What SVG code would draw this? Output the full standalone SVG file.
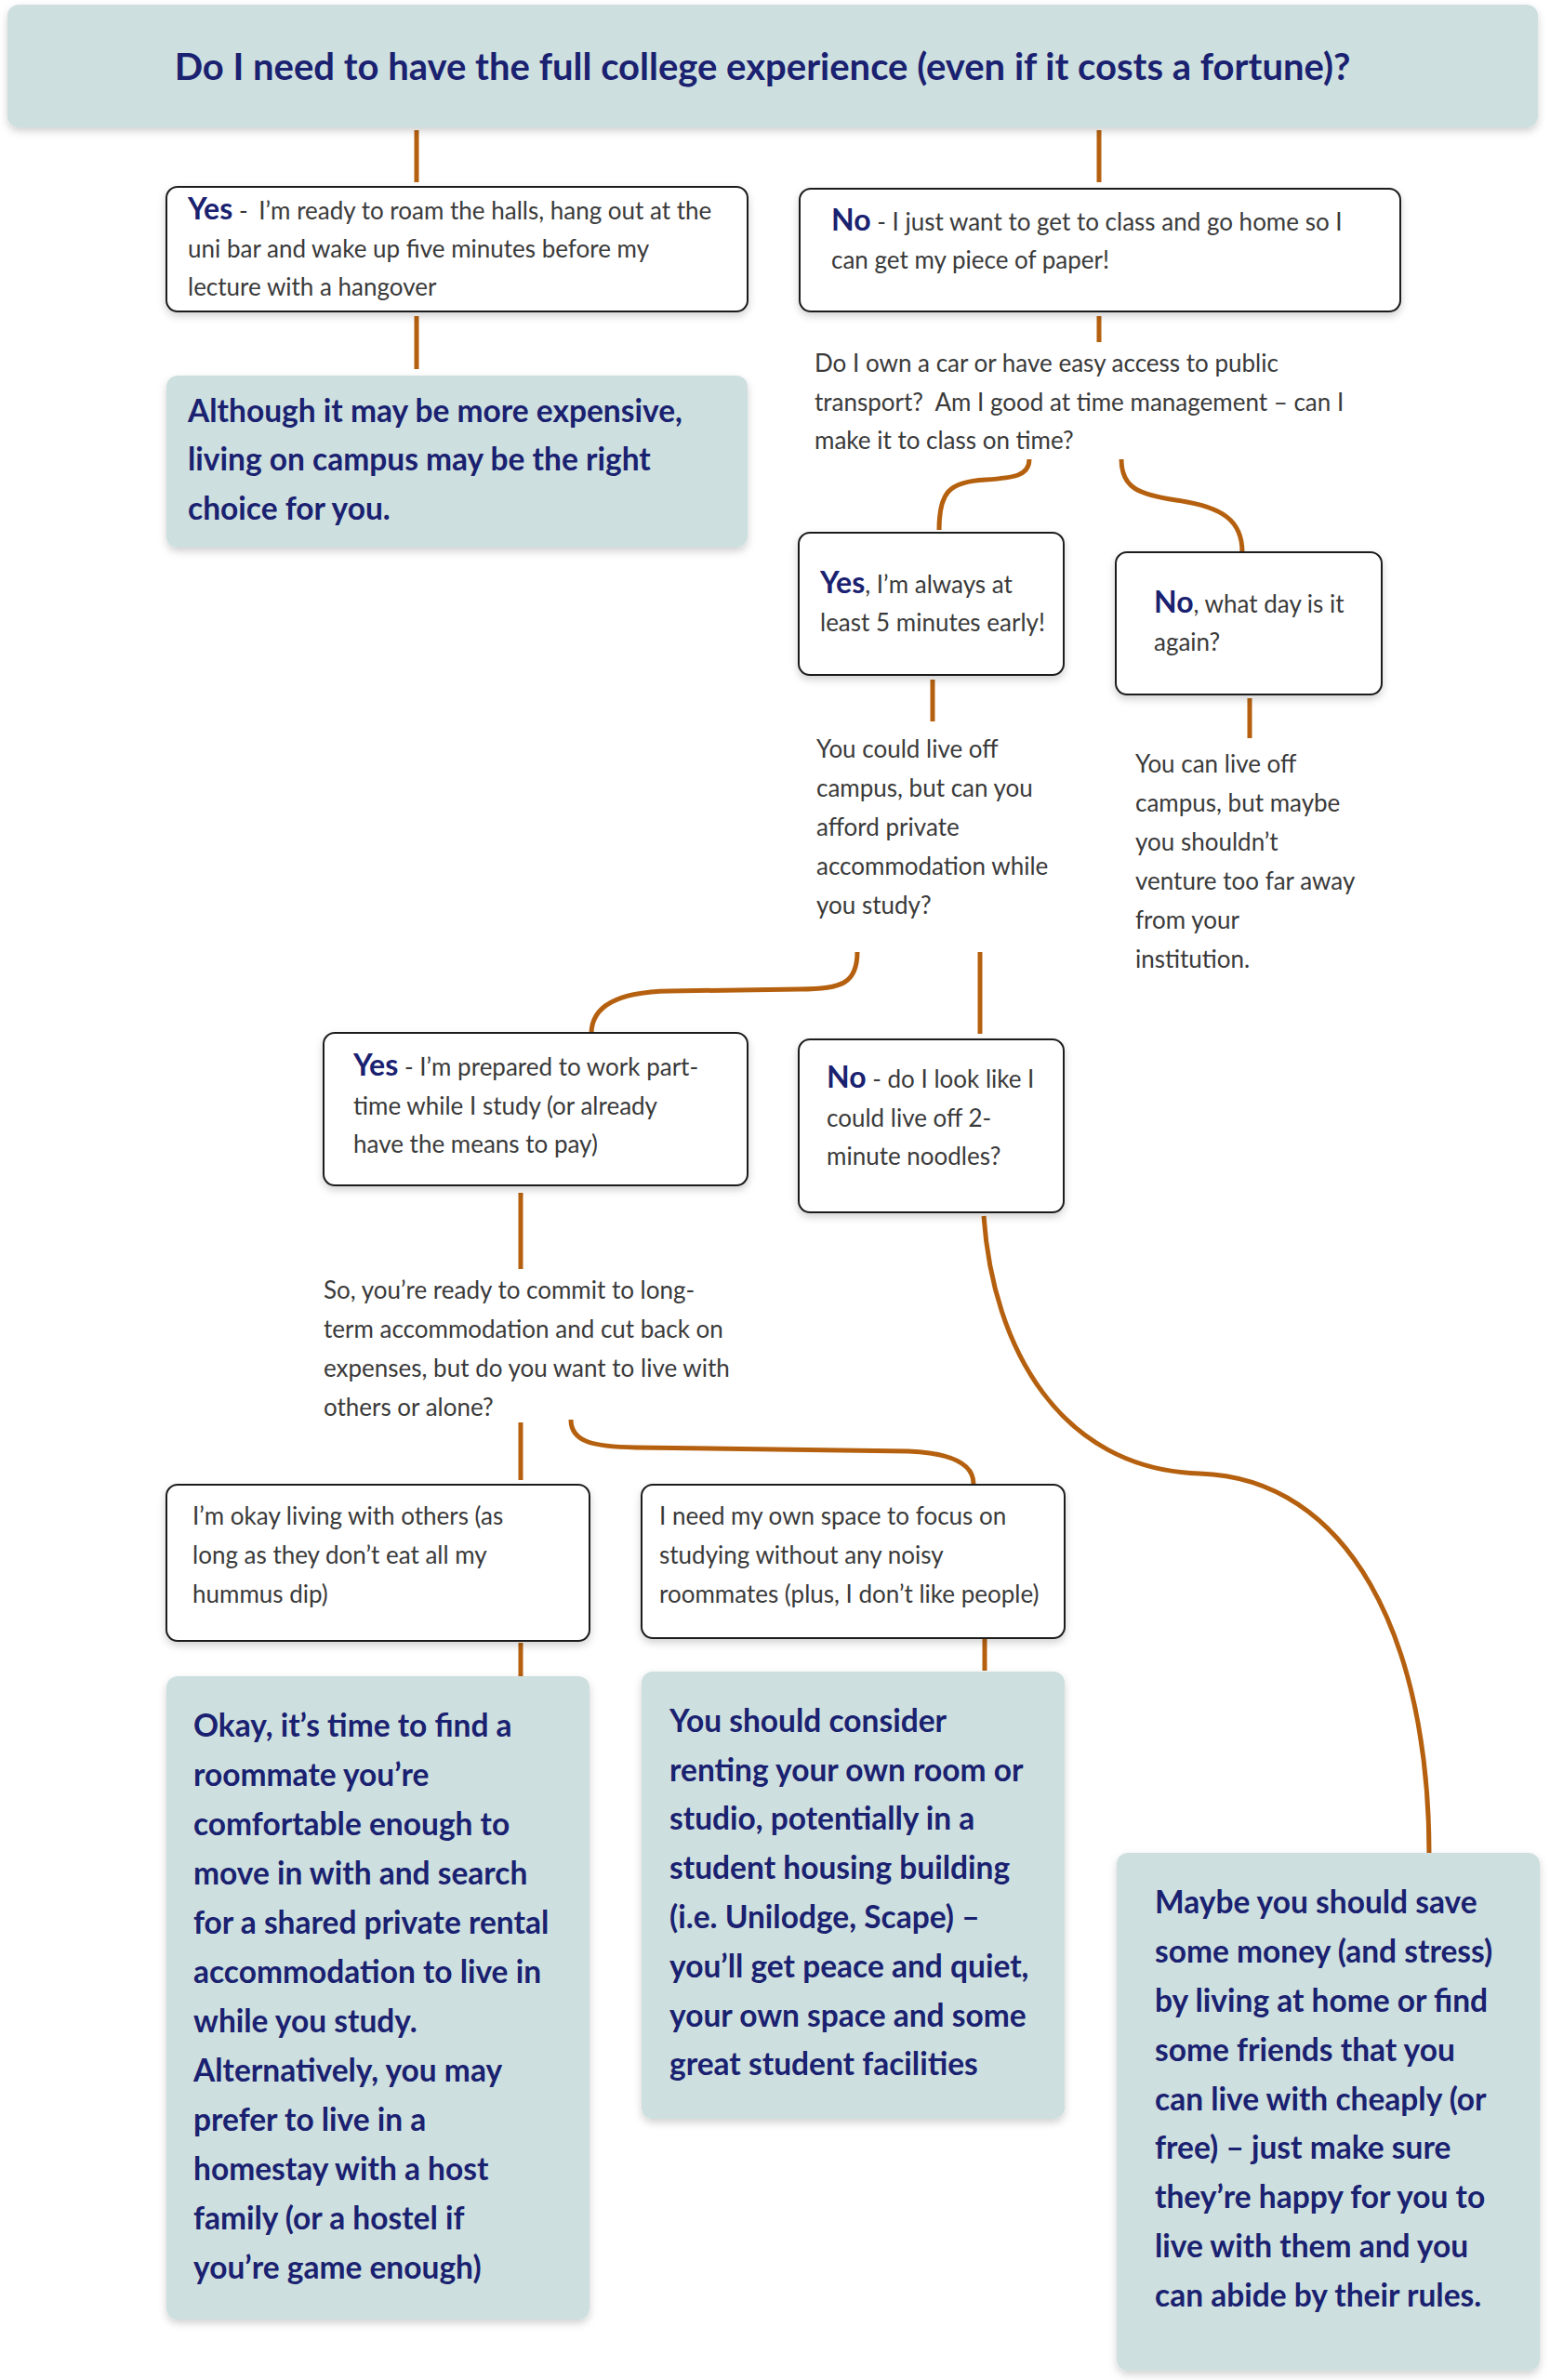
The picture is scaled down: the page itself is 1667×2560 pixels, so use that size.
<svg xmlns="http://www.w3.org/2000/svg" width="1667" height="2560" viewBox="0 0 1667 2560">
<defs>
<filter id="sh" x="-5%" y="-5%" width="110%" height="115%">
<feDropShadow dx="0" dy="4" stdDeviation="4" flood-color="#000" flood-opacity="0.18"/>
</filter>
<style>
.g{fill:#cde0df;filter:url(#sh)}
.w{fill:#fff;stroke:#1c1c1c;stroke-width:2;filter:url(#sh)}
.t{font-family:Lato,"Liberation Sans",sans-serif;font-size:26px;fill:#3a3a3a}
.b{font-weight:bold;fill:#1a2170;font-size:32px}
.gt{font-family:Lato,"Liberation Sans",sans-serif;font-size:33.5px;font-weight:bold;fill:#1a2170}
.c{fill:none;stroke:#b5600f;stroke-width:5;stroke-linecap:butt}
</style>
</defs>
<rect width="1667" height="2560" fill="#fff"/>
<g id="connectors">
<path class="c" d="M448,140 V196"/>
<path class="c" d="M1182,140 V196"/>
<path class="c" d="M448,340 V397"/>
<path class="c" d="M1182,340 V368"/>
<path class="c" d="M1107,494 C1107,512 1090,514 1060,516 C1020,518 1010,530 1010,570"/>
<path class="c" d="M1206,494 C1206,525 1225,532 1265,538 C1315,545 1336,560 1336,594"/>
<path class="c" d="M1003,731 V776"/>
<path class="c" d="M1344,751 V794"/>
<path class="c" d="M922,1024 C922,1058 905,1064 860,1064 L720,1066 C660,1067 636,1085 636,1112"/>
<path class="c" d="M1054,1024 V1112"/>
<path class="c" d="M560,1283 V1365"/>
<path class="c" d="M560,1530 V1592"/>
<path class="c" d="M614,1527 C614,1552 640,1556 684,1557 L977,1561 C1025,1563 1047,1575 1047,1596"/>
<path class="c" d="M1058,1308 C1068,1450 1140,1580 1290,1585 C1450,1590 1537,1760 1537,1995"/>
<path class="c" d="M560,1767 V1803"/>
<path class="c" d="M1059,1762 V1797"/>
</g>
<g id="title">
<rect class="g" x="8" y="5" width="1646" height="132" rx="12"/>
<text x="820" y="86" text-anchor="middle" font-family="Lato,'Liberation Sans',sans-serif" font-size="40" font-weight="bold" fill="#1a2170">Do I need to have the full college experience (even if it costs a fortune)?</text>
</g>
<g id="yes1">
<rect class="w" x="179" y="201" width="625" height="134" rx="12"/>
<text class="t"><tspan x="202" y="236"><tspan class="b">Yes</tspan> - <tspan dx="5">I’m ready to roam the halls, hang out at the</tspan></tspan><tspan x="202" y="277">uni bar and wake up five minutes before my</tspan><tspan x="202" y="318">lecture with a hangover</tspan></text>
</g>
<g id="campus">
<rect class="g" x="179" y="404" width="625" height="185" rx="12"/>
<text class="gt"><tspan x="202" y="454">Although it may be more expensive,</tspan><tspan x="202" y="506">living on campus may be the right</tspan><tspan x="202" y="559">choice for you.</tspan></text>
</g>
<g id="no1">
<rect class="w" x="860" y="203" width="646" height="132" rx="12"/>
<text class="t"><tspan x="894" y="248"><tspan class="b">No</tspan> - I just want to get to class and go home so I</tspan><tspan x="894" y="289">can get my piece of paper!</tspan></text>
</g>
<g id="q-transport">
<text class="t" xml:space="preserve"><tspan x="876" y="400">Do I own a car or have easy access to public</tspan><tspan x="876" y="442">transport?  Am I good at time management – can I</tspan><tspan x="876" y="483">make it to class on time?</tspan></text>
</g>
<g id="yes2">
<rect class="w" x="859" y="573" width="285" height="153" rx="12"/>
<text class="t"><tspan x="882" y="638"><tspan class="b">Yes</tspan>, I’m always at</tspan><tspan x="882" y="679">least 5 minutes early!</tspan></text>
</g>
<g id="no2">
<rect class="w" x="1200" y="594" width="286" height="153" rx="12"/>
<text class="t"><tspan x="1241" y="659"><tspan class="b">No</tspan>, what day is it</tspan><tspan x="1241" y="700">again?</tspan></text>
</g>
<g id="q-afford">
<text class="t"><tspan x="878" y="815">You could live off</tspan><tspan x="878" y="857">campus, but can you</tspan><tspan x="878" y="899">afford private</tspan><tspan x="878" y="941">accommodation while</tspan><tspan x="878" y="983">you study?</tspan></text>
</g>
<g id="no2-note">
<text class="t"><tspan x="1221" y="831">You can live off</tspan><tspan x="1221" y="873">campus, but maybe</tspan><tspan x="1221" y="915">you shouldn’t</tspan><tspan x="1221" y="957">venture too far away</tspan><tspan x="1221" y="999">from your</tspan><tspan x="1221" y="1041">institution.</tspan></text>
</g>
<g id="yes3">
<rect class="w" x="348" y="1111" width="456" height="164" rx="12"/>
<text class="t"><tspan x="380" y="1157"><tspan class="b">Yes</tspan> - I’m prepared to work part-</tspan><tspan x="380" y="1199">time while I study (or already</tspan><tspan x="380" y="1240">have the means to pay)</tspan></text>
</g>
<g id="no3">
<rect class="w" x="859" y="1118" width="285" height="186" rx="12"/>
<text class="t"><tspan x="889" y="1170"><tspan class="b">No</tspan> - do I look like I</tspan><tspan x="889" y="1212">could live off 2-</tspan><tspan x="889" y="1253">minute noodles?</tspan></text>
</g>
<g id="q-alone">
<text class="t"><tspan x="348" y="1397">So, you’re ready to commit to long-</tspan><tspan x="348" y="1439">term accommodation and cut back on</tspan><tspan x="348" y="1481">expenses, but do you want to live with</tspan><tspan x="348" y="1523">others or alone?</tspan></text>
</g>
<g id="others">
<rect class="w" x="179" y="1597" width="455" height="168" rx="12"/>
<text class="t"><tspan x="207" y="1640">I’m okay living with others (as</tspan><tspan x="207" y="1682">long as they don’t eat all my</tspan><tspan x="207" y="1724">hummus dip)</tspan></text>
</g>
<g id="alone">
<rect class="w" x="690" y="1597" width="455" height="165" rx="12"/>
<text class="t"><tspan x="709" y="1640">I need my own space to focus on</tspan><tspan x="709" y="1682">studying without any noisy</tspan><tspan x="709" y="1724">roommates (plus, I don’t like people)</tspan></text>
</g>
<g id="roommate">
<rect class="g" x="179" y="1803" width="455" height="692" rx="12"/>
<text class="gt"><tspan x="208" y="1868">Okay, it’s time to find a</tspan><tspan x="208" y="1921">roommate you’re</tspan><tspan x="208" y="1974">comfortable enough to</tspan><tspan x="208" y="2027">move in with and search</tspan><tspan x="208" y="2080">for a shared private rental</tspan><tspan x="208" y="2133">accommodation to live in</tspan><tspan x="208" y="2186">while you study.</tspan><tspan x="208" y="2239">Alternatively, you may</tspan><tspan x="208" y="2292">prefer to live in a</tspan><tspan x="208" y="2345">homestay with a host</tspan><tspan x="208" y="2398">family (or a hostel if</tspan><tspan x="208" y="2451">you’re game enough)</tspan></text>
</g>
<g id="own-room">
<rect class="g" x="690" y="1798" width="455" height="481" rx="12"/>
<text class="gt"><tspan x="720" y="1863">You should consider</tspan><tspan x="720" y="1916">renting your own room or</tspan><tspan x="720" y="1968">studio, potentially in a</tspan><tspan x="720" y="2021">student housing building</tspan><tspan x="720" y="2074">(i.e. Unilodge, Scape) –</tspan><tspan x="720" y="2127">you’ll get peace and quiet,</tspan><tspan x="720" y="2180">your own space and some</tspan><tspan x="720" y="2232">great student facilities</tspan></text>
</g>
<g id="home">
<rect class="g" x="1201" y="1993" width="455" height="557" rx="12"/>
<text class="gt"><tspan x="1242" y="2058">Maybe you should save</tspan><tspan x="1242" y="2111">some money (and stress)</tspan><tspan x="1242" y="2164">by living at home or find</tspan><tspan x="1242" y="2217">some friends that you</tspan><tspan x="1242" y="2270">can live with cheaply (or</tspan><tspan x="1242" y="2322">free) – just make sure</tspan><tspan x="1242" y="2375">they’re happy for you to</tspan><tspan x="1242" y="2428">live with them and you</tspan><tspan x="1242" y="2481">can abide by their rules.</tspan></text>
</g>
</svg>
